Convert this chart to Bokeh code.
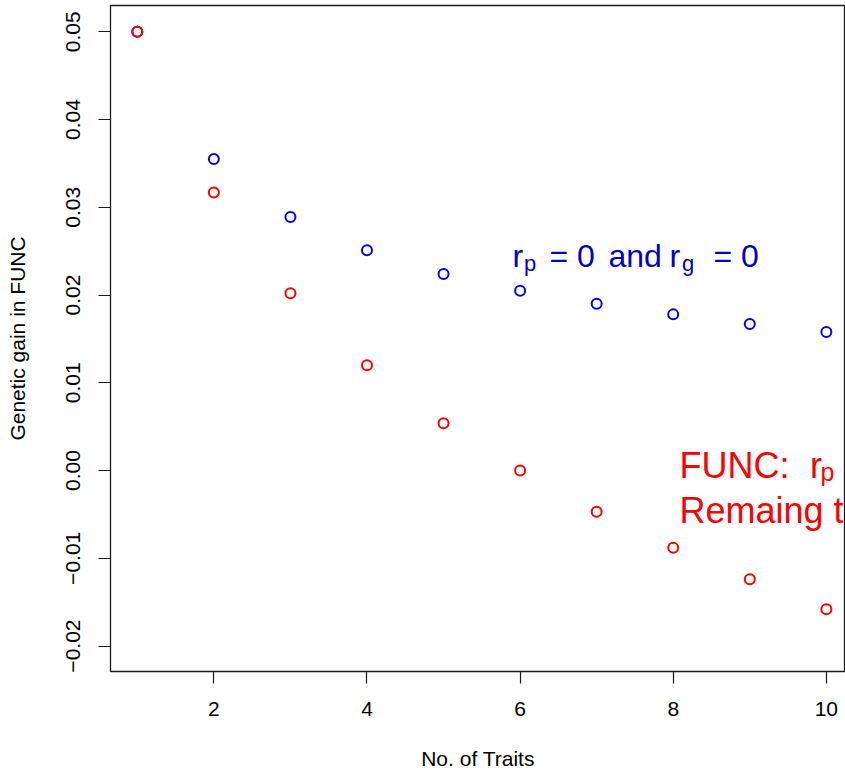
from bokeh.plotting import figure
from bokeh.models import FixedTicker, CustomJSTickFormatter, Range1d
from bokeh.core.properties import value
from bokeh.embed import file_html
from bokeh.resources import INLINE

# ---- data ----
traits = [1, 2, 3, 4, 5, 6, 7, 8, 9, 10]
gain_uncorrelated = [0.0500, 0.0355, 0.0289, 0.0251, 0.0224, 0.0205, 0.0190, 0.0178, 0.0167, 0.0158]
gain_func_corr = [0.0500, 0.0317, 0.0202, 0.0120, 0.0054, 0.0000, -0.0047, -0.0088, -0.0124, -0.0158]
x_ticks = [2, 4, 6, 8, 10]
y_ticks = [-0.02, -0.01, 0.00, 0.01, 0.02, 0.03, 0.04, 0.05]
x_label = "No. of Traits"
y_label = "Genetic gain in FUNC"

# ---- layout ----
W, H = 845, 772
FL, FR, FT, FB = 110, 845, 5, 671
X0, X1 = 0.65, 10.25
Y0, Y1 = -0.0229, 0.0530
FONT = "Liberation Sans"

p = figure(width=W, height=H, x_range=Range1d(X0, X1), y_range=Range1d(Y0, Y1),
           output_backend="svg", toolbar_location=None,
           min_border_left=FL, min_border_right=W - FR, min_border_top=FT,
           min_border_bottom=H - FB)
p.background_fill_color = "white"
p.border_fill_color = "white"
p.grid.visible = False
p.outline_line_color = "#1a1a1a"
p.outline_line_width = 1.3

for ax, ticks in ((p.xaxis[0], x_ticks), (p.yaxis[0], y_ticks)):
    ax.ticker = FixedTicker(ticks=ticks)
    ax.axis_line_color = None
    ax.major_tick_out = 12
    ax.major_tick_in = 0
    ax.minor_tick_line_color = None
    ax.major_tick_line_color = "#1a1a1a"
    ax.major_tick_line_width = 1.2
    ax.major_label_text_font = FONT
    ax.major_label_text_font_size = "21px"
    ax.major_label_text_color = "black"
    ax.axis_label_text_font = FONT
    ax.axis_label_text_font_size = "21px"
    ax.axis_label_text_font_style = "normal"
    ax.axis_label_text_color = "black"

p.xaxis[0].axis_label = x_label
p.xaxis[0].major_label_standoff = 18
p.xaxis[0].axis_label_standoff = 28
p.yaxis[0].axis_label = y_label
p.yaxis[0].major_label_orientation = "vertical"
p.yaxis[0].major_label_standoff = 18
p.yaxis[0].axis_label_standoff = 35
p.yaxis[0].formatter = CustomJSTickFormatter(
    code="return tick.toFixed(2).replace('-', '\\u2212');")

# ---- points ----
p.scatter(traits, gain_uncorrelated, marker="circle", size=10, fill_color=None,
          line_color="#0000FF", line_width=2)
p.scatter(traits, gain_func_corr, marker="circle", size=10, fill_color=None,
          line_color="#FF0000", line_width=2)

# ---- annotations (pixel placement converted into data units) ----
def dx(px):
    return X0 + (px - FL) / (FR - FL) * (X1 - X0)

def dy(py):
    return Y1 - (py - FT) / (FB - FT) * (Y1 - Y0)

blue_pieces = [("r", 512, 255, 32), ("p", 523.5, 262.5, 22), ("= 0", 549, 255, 32),
               ("and", 608, 255, 32), ("r", 669, 255, 32), ("g", 681.5, 262.5, 22),
               ("= 0", 713, 255, 32)]
red_pieces = [("FUNC:", 679, 465, 36), ("r", 809.5, 465, 36), ("p", 820, 471, 25),
              ("Remaing t", 679, 510, 36)]

for pieces, col in ((blue_pieces, "#0000CC"), (red_pieces, "#FF0000")):
    for txt, px, py, fs in pieces:
        p.text(x=[dx(px)], y=[dy(py)], text=[txt], text_color=col,
               text_font=value(FONT), text_font_size=f"{fs}px",
               text_align="left", text_baseline="alphabetic")

open("out.html", "w").write(file_html(p, INLINE))
